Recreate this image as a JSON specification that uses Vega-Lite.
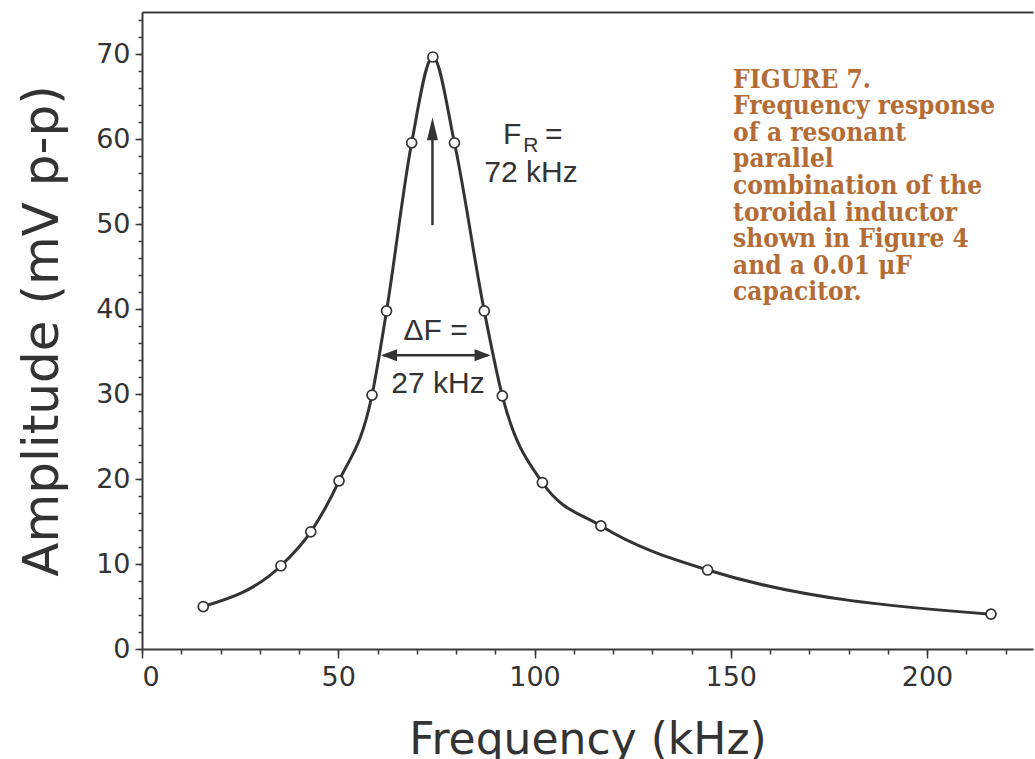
{
  "$schema": "https://vega.github.io/schema/vega-lite/v6.json",
  "width": 891,
  "height": 637,
  "autosize": {"type": "none"},
  "padding": {"left": 142, "top": 12, "right": 2, "bottom": 110},
  "background": "white",
  "config": {
    "view": {"stroke": null},
    "axis": {
      "domainColor": "#3a3a3a",
      "domainWidth": 2,
      "tickColor": "#3a3a3a",
      "tickWidth": 1.5,
      "labelColor": "#333333",
      "titleColor": "#333333",
      "labelFont": "DejaVu Sans",
      "titleFont": "DejaVu Sans",
      "labelFontSize": 27,
      "titleFontWeight": "normal",
      "grid": false
    }
  },
  "datasets": {
    "pts": [
      {"freq": 15.6, "amp": 5.0},
      {"freq": 35.4, "amp": 9.8},
      {"freq": 43.0, "amp": 13.8},
      {"freq": 50.2, "amp": 19.8},
      {"freq": 58.6, "amp": 29.9},
      {"freq": 62.3, "amp": 39.8},
      {"freq": 68.7, "amp": 59.6},
      {"freq": 74.1, "amp": 69.7},
      {"freq": 79.6, "amp": 59.6},
      {"freq": 87.2, "amp": 39.8},
      {"freq": 91.8, "amp": 29.8},
      {"freq": 102.0, "amp": 19.6},
      {"freq": 116.9, "amp": 14.5},
      {"freq": 144.1, "amp": 9.3},
      {"freq": 216.3, "amp": 4.1}
    ],
    "centerText": [
      {"x": 99.1, "y": 55.0, "t": "72 kHz"},
      {"x": 74.8, "y": 36.4, "t": "ΔF ="},
      {"x": 75.4, "y": 30.2, "t": "27 kHz"}
    ],
    "leftText": [
      {"x": 92.0, "y": 59.4, "t": "F"},
      {"x": 102.7, "y": 59.4, "t": "="}
    ],
    "subText": [
      {"x": 97.1, "y": 58.5, "t": "R"}
    ],
    "caption": [
      {"x": 150.6, "y": 66.1, "t": "FIGURE 7.\nFrequency response\nof a resonant\nparallel\ncombination of the\ntoroidal inductor\nshown in Figure 4\nand a 0.01 μF\ncapacitor."}
    ],
    "vArrow": [{"x": 74.0, "y": 49.9, "y2": 61.0}],
    "vHead": [{"x": 74.0, "y": 62.6}],
    "hArrow": [{"x": 61.5, "x2": 88.2, "y": 34.6}],
    "lHead": [{"x": 60.9, "y": 34.6}],
    "rHead": [{"x": 88.8, "y": 34.6}]
  },
  "layer": [
    {
      "data": {"name": "pts"},
      "mark": {"type": "line", "interpolate": "monotone", "color": "#333333", "strokeWidth": 3},
      "encoding": {
        "x": {
          "field": "freq", "type": "quantitative",
          "scale": {"domain": [0, 227], "nice": false, "zero": false},
          "axis": {
            "orient": "bottom", "values": [0, 50, 100, 150, 200], "tickSize": 9,
            "labelPadding": 6, "title": "Frequency (kHz)", "titleFontSize": 44, "titlePadding": 28
          }
        },
        "y": {
          "field": "amp", "type": "quantitative",
          "scale": {"domain": [0, 75], "nice": false, "zero": false},
          "axis": {
            "orient": "left", "values": [0, 10, 20, 30, 40, 50, 60, 70], "tickSize": 7,
            "labelPadding": 5, "title": "Amplitude (mV p-p)", "titleFontSize": 50, "titlePadding": 28
          }
        }
      }
    },
    {
      "data": {"name": "pts"},
      "mark": {"type": "point", "filled": true, "fill": "white", "stroke": "#333333", "strokeWidth": 1.7, "size": 100, "opacity": 1},
      "encoding": {
        "x": {
          "field": "freq", "type": "quantitative",
          "axis": {
            "orient": "bottom", "values": [0, 10, 20, 30, 40, 50, 60, 70, 80, 90, 100, 110, 120, 130, 140, 150, 160, 170, 180, 190, 200, 210, 220],
            "tickSize": 5, "labels": false, "domain": false, "title": null
          }
        },
        "y": {
          "field": "amp", "type": "quantitative",
          "axis": {
            "orient": "left", "values": [0, 2, 4, 6, 8, 10, 12, 14, 16, 18, 20, 22, 24, 26, 28, 30, 32, 34, 36, 38, 40, 42, 44, 46, 48, 50, 52, 54, 56, 58, 60, 62, 64, 66, 68, 70, 72, 74],
            "tickSize": 4, "labels": false, "domain": false, "title": null
          }
        }
      }
    },
    {
      "data": {"name": "vArrow"},
      "mark": {"type": "rule", "color": "#333333", "strokeWidth": 2.5},
      "encoding": {
        "x": {"field": "x", "type": "quantitative", "axis": {"orient": "top", "ticks": false, "labels": false, "title": null}},
        "y": {"field": "y", "type": "quantitative", "axis": null},
        "y2": {"field": "y2"}
      }
    },
    {
      "data": {"name": "vHead"},
      "mark": {"type": "point", "filled": true, "color": "#333333", "opacity": 1, "size": 400, "shape": "M0,0L0.55,2.3L-0.55,2.3Z"},
      "encoding": {
        "x": {"field": "x", "type": "quantitative", "axis": null},
        "y": {"field": "y", "type": "quantitative", "axis": null}
      }
    },
    {
      "data": {"name": "hArrow"},
      "mark": {"type": "rule", "color": "#333333", "strokeWidth": 2.5},
      "encoding": {
        "x": {"field": "x", "type": "quantitative", "axis": null},
        "x2": {"field": "x2"},
        "y": {"field": "y", "type": "quantitative", "axis": null}
      }
    },
    {
      "data": {"name": "lHead"},
      "mark": {"type": "point", "filled": true, "color": "#333333", "opacity": 1, "size": 400, "shape": "M0,0L1.6,-0.6L1.6,0.6Z"},
      "encoding": {
        "x": {"field": "x", "type": "quantitative", "axis": null},
        "y": {"field": "y", "type": "quantitative", "axis": null}
      }
    },
    {
      "data": {"name": "rHead"},
      "mark": {"type": "point", "filled": true, "color": "#333333", "opacity": 1, "size": 400, "shape": "M0,0L-1.6,-0.6L-1.6,0.6Z"},
      "encoding": {
        "x": {"field": "x", "type": "quantitative", "axis": null},
        "y": {"field": "y", "type": "quantitative", "axis": null}
      }
    },
    {
      "data": {"name": "centerText"},
      "mark": {"type": "text", "font": "Liberation Sans", "fontSize": 30, "color": "#333333", "align": "center", "baseline": "alphabetic"},
      "encoding": {
        "x": {"field": "x", "type": "quantitative", "axis": null},
        "y": {"field": "y", "type": "quantitative", "axis": null},
        "text": {"field": "t"}
      }
    },
    {
      "data": {"name": "leftText"},
      "mark": {"type": "text", "font": "Liberation Sans", "fontSize": 30, "color": "#333333", "align": "left", "baseline": "alphabetic"},
      "encoding": {
        "x": {"field": "x", "type": "quantitative", "axis": null},
        "y": {"field": "y", "type": "quantitative", "axis": null},
        "text": {"field": "t"}
      }
    },
    {
      "data": {"name": "subText"},
      "mark": {"type": "text", "font": "Liberation Sans", "fontSize": 21, "color": "#333333", "align": "left", "baseline": "alphabetic"},
      "encoding": {
        "x": {"field": "x", "type": "quantitative", "axis": null},
        "y": {"field": "y", "type": "quantitative", "axis": null},
        "text": {"field": "t"}
      }
    },
    {
      "data": {"name": "caption"},
      "mark": {"type": "text", "font": "DejaVu Serif Condensed, DejaVu Serif", "fontWeight": "bold", "fontSize": 26, "lineHeight": 26.6, "lineBreak": "\n", "color": "#b46c36", "align": "left", "baseline": "alphabetic"},
      "encoding": {
        "x": {"field": "x", "type": "quantitative", "axis": null},
        "y": {"field": "y", "type": "quantitative", "axis": null},
        "text": {"field": "t"}
      }
    }
  ],
  "resolve": {"axis": {"x": "independent", "y": "independent"}}
}
